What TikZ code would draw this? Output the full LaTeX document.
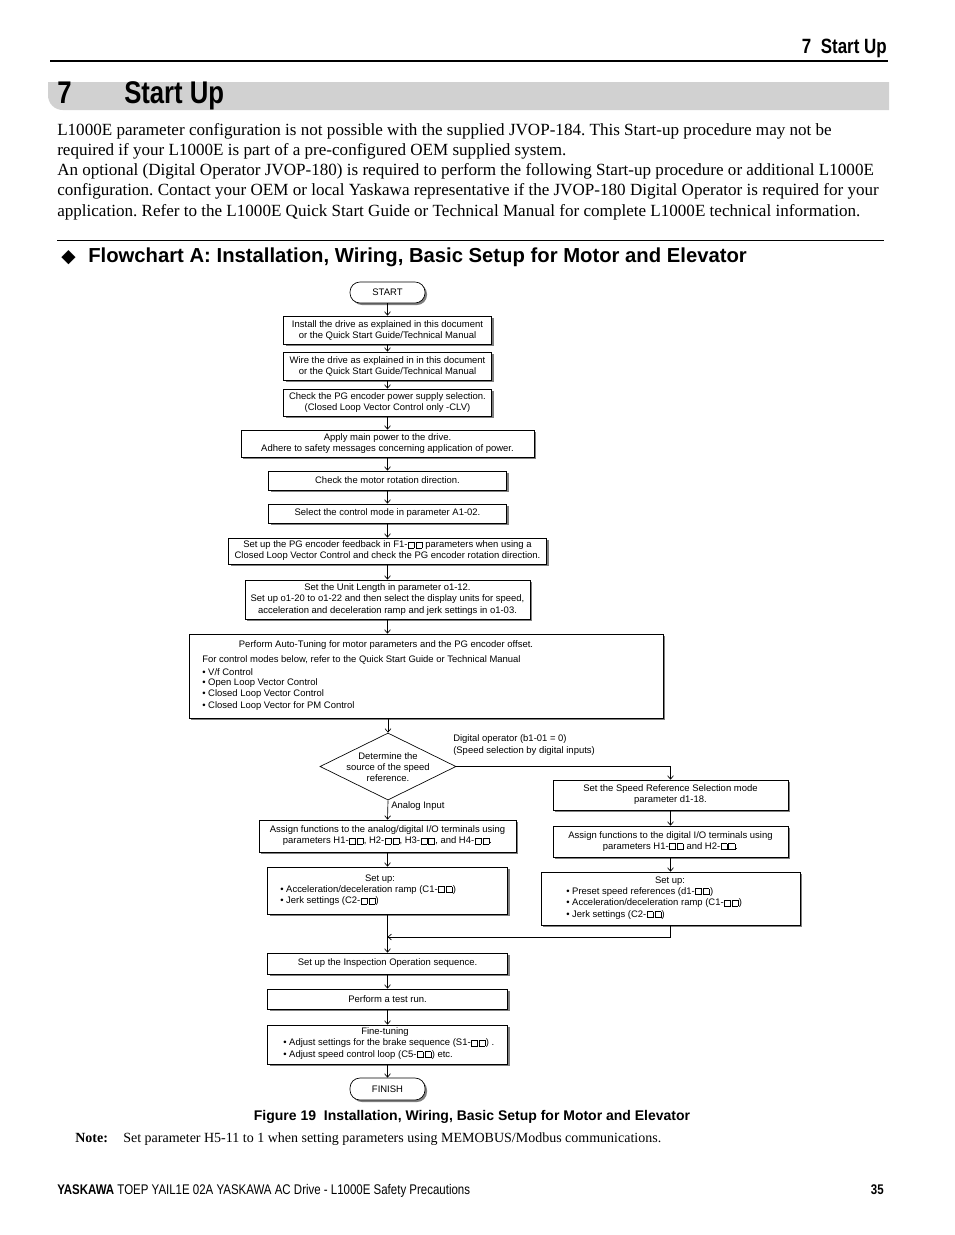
\documentclass[tikz,border=0pt]{standalone}
\usepackage{fontspec}
\setmainfont{Liberation Serif}
\setsansfont{Liberation Sans}
\newfontfamily\nar[FakeStretch=0.82]{Liberation Sans}
\newfontfamily\djv{DejaVu Sans}
\usetikzlibrary{shapes.geometric,shadows,arrows.meta}
\frenchspacing
\newcommand\fcs{\sffamily\fontsize{7.1}{8.3}\selectfont}
\newcommand\sqb{{\setlength\fboxsep{0pt}\setlength\fboxrule{0.25pt}\fbox{\rule{0pt}{4.3pt}\rule{4.3pt}{0pt}}}}
\newcommand\sqq{\kern0.4pt\sqb\kern1pt\sqb\kern0.4pt}
\tikzset{
  sz/.style 2 args={minimum width=#1*0.75pt, minimum height=#2*0.75pt},
  fbox/.style={draw, fill=white, line width=0.5pt, inner sep=0pt, align=center, font=\fcs,
    drop shadow={shadow xshift=1.5pt, shadow yshift=-1.5pt, fill=black, opacity=0.5}},
  term/.style={fbox, rounded corners=7.5pt},
  arr/.style={-{Straight Barb[length=2.6pt,width=4.4pt]}, line width=0.5pt},
  txt/.style={inner sep=0pt, font=\fcs},
  lt/.style={txt, anchor=west},
  body/.style={inner sep=0pt, anchor=base west, font=\fontsize{12.8}{15}\selectfont},
}
\begin{document}
\begin{tikzpicture}[x=0.75pt,y=-0.75pt]
\fill[white] (0,0) rectangle (954,1235);
\useasboundingbox (0,0) rectangle (954,1235);

% header
\node[anchor=base east, inner sep=0pt, font=\nar\bfseries\fontsize{15.5}{18}\selectfont] (hdr) at (887,53) {7\ \ Start Up};
\draw[line width=2.2pt] (50,61) -- (888,61);
\fill[black!18] (889,82) -- (48,82) [rounded corners=11pt] -- (48,110) [sharp corners] -- (889,110) -- cycle;
\node[anchor=base west, inner sep=0pt, font=\nar\bfseries\fontsize{23.5}{26}\selectfont] (t7) at (57,103) {7};
\node[anchor=base west, inner sep=0pt, font=\nar\bfseries\fontsize{23.5}{26}\selectfont] (ttl) at (124,103) {Start Up};

% body text
\node[body] (p1) at (57,135) {L1000E parameter configuration is not possible with the supplied JVOP-184. This Start-up procedure may not be};
\node[body] (p2) at (57,155) {required if your L1000E is part of a pre-configured OEM supplied system.};
\node[body] (p3) at (57,175) {An optional (Digital Operator JVOP-180) is required to perform the following Start-up procedure or additional L1000E};
\node[body] (p4) at (57,195) {configuration. Contact your OEM or local Yaskawa representative if the JVOP-180 Digital Operator is required for your};
\node[body] (p5) at (57,216) {application. Refer to the L1000E Quick Start Guide or Technical Manual for complete L1000E technical information.};

\draw[line width=0.6pt] (57,240) -- (884,240);
\node[anchor=base west, inner sep=0pt, font=\djv\fontsize{14}{16}\selectfont] (dmd) at (61,262) {◆};
\node[anchor=base west, inner sep=0pt, font=\sffamily\bfseries\fontsize{15.2}{18}\selectfont] (hd) at (88,262) {Flowchart A: Installation, Wiring, Basic Setup for Motor and Elevator};

% flowchart
\node[term, sz={75}{21}] (start) at (387.5,292.5) {START};
\node[fbox, sz={208}{28}] (b1) at (387.5,330) {Install the drive as explained in this document\\or the Quick Start Guide/Technical Manual};
\node[fbox, sz={208}{28}] (b2) at (387.5,366) {Wire the drive as explained in in this document\\or the Quick Start Guide/Technical Manual};
\node[fbox, sz={208}{27}] (b3) at (387.5,402.5) {Check the PG encoder power supply selection.\\(Closed Loop Vector Control only -CLV)};
\node[fbox, sz={293}{27}] (b4) at (387.5,443.5) {Apply main power to the drive.\\Adhere to safety messages concerning application of power.};
\node[fbox, sz={238}{19}] (b5) at (387.5,480.5) {Check the motor rotation direction.};
\node[fbox, sz={238}{19}] (b6) at (387.5,513.5) {Select the control mode in parameter A1-02.};
\node[fbox, sz={318}{26}] (b7) at (387.5,551) {Set up the PG encoder feedback in F1-\sqq{} parameters when using a\\Closed Loop Vector Control and check the PG encoder rotation direction.};
\node[fbox, sz={285}{39}] (b8) at (387.5,599.5) {Set the Unit Length in parameter o1-12.\\Set up o1-20 to o1-22 and then select the display units for speed,\\acceleration and deceleration ramp and jerk settings in o1-03.};
\node[fbox, sz={474}{84}] (b9) at (426,676) {};
\node[txt] (b9t1) at (386,645) {Perform Auto-Tuning for motor parameters and the PG encoder offset.};
\node[lt] (b9t2) at (202,660) {For control modes below, refer to the Quick Start Guide or Technical Manual};
\node[lt] (b9t3) at (202,672) {• V/f Control};
\node[lt] (b9t4) at (202,683) {• Open Loop Vector Control};
\node[lt] (b9t5) at (202,694.5) {• Closed Loop Vector Control};
\node[lt] (b9t6) at (202,706) {• Closed Loop Vector for PM Control};

\node[diamond, draw, line width=0.5pt, fill=white, inner sep=0pt, sz={136}{67}] (dia) at (388,766.5) {};
\node[txt, align=center] (diat) at (388,767) {Determine the\\source of the speed\\reference.};
\node[lt] (lbd1) at (453,739) {Digital operator (b1-01 = 0)};
\node[lt] (lbd2) at (453,751) {(Speed selection by digital inputs)};
\node[lt] (lba) at (391,806.5) {Analog Input};

\node[fbox, sz={235}{30}] (r1) at (670.5,795) {Set the Speed Reference Selection mode\\parameter d1-18.};
\node[fbox, sz={235}{31}] (r2) at (670.5,841.5) {Assign functions to the digital I/O terminals using\\parameters H1-\sqq{} and H2-\sqq.};
\node[fbox, sz={259}{53}] (r3) at (670.5,898.5) {};
\node[txt] (r3t1) at (670,881) {Set up:};
\node[lt] (r3t2) at (566,892) {• Preset speed references (d1-\sqq)};
\node[lt] (r3t3) at (566,903.5) {• Acceleration/deceleration ramp (C1-\sqq)};
\node[lt] (r3t4) at (566,915) {• Jerk settings (C2-\sqq)};

\node[fbox, sz={257}{32}] (l1) at (387.5,836) {Assign functions to the analog/digital I/O terminals using\\parameters H1-\sqq, H2-\sqq, H3-\sqq, and H4-\sqq.};
\node[fbox, sz={240}{47}] (l2) at (387.5,890.5) {};
\node[txt] (l2t1) at (380,879) {Set up:};
\node[lt] (l2t2) at (280,890) {• Acceleration/deceleration ramp (C1-\sqq)};
\node[lt] (l2t3) at (280,901.5) {• Jerk settings (C2-\sqq)};

\coordinate (mg) at (387.5,937);
\node[fbox, sz={240}{21}] (insp) at (387.5,963.5) {Set up the Inspection Operation sequence.};
\node[fbox, sz={240}{20}] (test) at (387.5,999) {Perform a test run.};
\node[fbox, sz={240}{39}] (fine) at (387.5,1044.5) {};
\node[txt] (ft1) at (385,1032) {Fine-tuning};
\node[lt] (ft2) at (283,1043.5) {• Adjust settings for the brake sequence (S1-\sqq) .};
\node[lt] (ft3) at (283,1055) {• Adjust speed control loop (C5-\sqq) etc.};
\node[term, sz={75}{22}] (finish) at (387.5,1089) {FINISH};

% connectors
\draw[arr] (start) -- (b1);
\draw[arr] (b1) -- (b2);
\draw[arr] (b2) -- (b3);
\draw[arr] (b3) -- (b4);
\draw[arr] (b4) -- (b5);
\draw[arr] (b5) -- (b6);
\draw[arr] (b6) -- (b7);
\draw[arr] (b7) -- (b8);
\draw[arr] (b8.south) -- (b8.south |- b9.north);
\draw[arr] (dia.north |- b9.south) -- (dia.north);
\draw[arr] (dia.east) -| (r1.north);
\draw[arr] (dia.south) -- (l1.north);
\draw[arr] (r1) -- (r2);
\draw[arr] (r2) -- (r3);
\draw[arr] (l1) -- (l2);
\draw[arr] (l2) -- (insp);
\draw[arr] (r3.south) |- (mg);
\draw[arr] (insp) -- (test);
\draw[arr] (test) -- (fine);
\draw[arr] (fine) -- (finish);

% caption, note, footer
\node[anchor=base, inner sep=0pt, font=\sffamily\bfseries\fontsize{10.5}{13}\selectfont] (cap) at (472,1120) {Figure 19\ \ Installation, Wiring, Basic Setup for Motor and Elevator};
\node[anchor=base west, inner sep=0pt, font=\bfseries\fontsize{10.5}{12}\selectfont] (nt) at (75,1142) {Note:};
\node[anchor=base west, inner sep=0pt, font=\fontsize{10.5}{12}\selectfont] (ntx) at (123,1142) {Set parameter H5-11 to 1 when setting parameters using MEMOBUS/Modbus communications.};
\node[anchor=base west, inner sep=0pt, font=\nar\fontsize{10.5}{12}\selectfont] (ft) at (57,1194) {\bfseries YASKAWA\mdseries\ TOEP YAIL1E 02A YASKAWA AC Drive - L1000E Safety Precautions};
\node[anchor=base east, inner sep=0pt, font=\nar\bfseries\fontsize{10.5}{12}\selectfont] (pg) at (884,1194) {35};
\end{tikzpicture}
\end{document}
